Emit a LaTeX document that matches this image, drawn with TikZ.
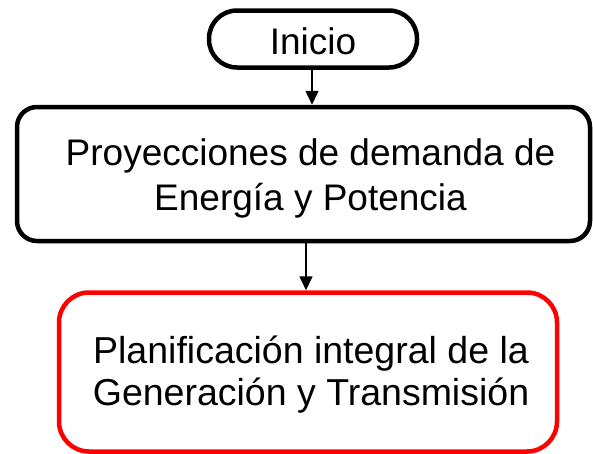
\documentclass[tikz,border=0pt]{standalone}
\usepackage{fontspec}
\setmainfont{Liberation Sans}
\usetikzlibrary{arrows.meta}
\newcommand{\strutH}[1]{\rule{0pt}{#1}}
\newcommand{\strutD}{\rule[-8pt]{0pt}{8pt}}
\begin{document}
\begin{tikzpicture}[x=1pt,y=-1pt,
  box/.style={draw=black, line width=4.5pt, align=center, inner sep=0pt},
  conn/.style={line width=1.6pt, -{Triangle[width=13pt,length=14pt]}}]
\useasboundingbox (0,0) rectangle (593,453);
\node[box, rounded corners=28pt, minimum width=208pt, minimum height=57pt,
  font=\fontsize{37}{44}\selectfont] (ini) at (313,39) {\strutH{32pt}Inicio};
\node[box, rounded corners=20pt, minimum width=573pt, minimum height=134pt,
  font=\fontsize{37}{45}\selectfont] (proy) at (303.5,174)
  {\hspace*{14pt}\strutH{35pt}Proyecciones de demanda de\\\hspace*{14pt}Energía y Potencia\strutD};
\node[box, draw=red, rounded corners=30pt, minimum width=498pt, minimum height=159pt,
  font=\fontsize{37.5}{42}\selectfont] (plan) at (308,372)
  {\hspace*{6pt}\strutH{32pt}Planificación integral de la\\\hspace*{6pt}Generación y Transmisión\strutD};
\coordinate (a1) at (312,0);
\coordinate (a2) at (306,0);
\draw[conn] (ini.south -| a1) -- (proy.north -| a1);
\draw[conn] (proy.south -| a2) -- (plan.north -| a2);
\end{tikzpicture}
\end{document}
